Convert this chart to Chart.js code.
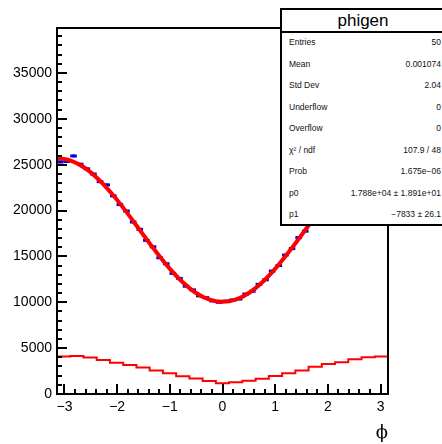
<!DOCTYPE html>
<html>
<head>
<meta charset="utf-8">
<script src="https://cdn.jsdelivr.net/npm/chart.js@4.4.1/dist/chart.umd.min.js"></script>
<style>
  body { margin: 0; background: #fff; }
  #wrap { position: relative; width: 442px; height: 444px; overflow: hidden; }
  #c { position: absolute; left: 0; top: 0; }
  #stats {
    position: absolute; left: 280px; top: 8px; width: 170px; height: 218px;
    box-sizing: border-box; border: 2px solid #000; background: #fff;
  }
  #stats .head {
    position: absolute; left: 0; top: 0; width: 162px; height: 21px;
    border-bottom: 2px solid #000; text-align: center;
    font: 17px "Liberation Sans", Arial, sans-serif; line-height: 21px; color: #000;
  }
  .srow {
    position: absolute; height: 12px; line-height: 12px;
    font: 8.5px "Liberation Sans", Arial, sans-serif; color: #111; white-space: nowrap;
  }
  #xtitle {
    position: absolute; right: 54px; top: 421px;
    font: 18px "DejaVu Serif", "Liberation Serif", serif; color: #000;
  }
</style>
</head>
<body>
<div id="wrap">
  <canvas id="c" width="442" height="444"></canvas>
  <div id="stats"><div class="head">phigen</div></div>
  <div id="xtitle">ϕ</div>
</div>
<script>
// histogram range
const phiMin = -Math.PI;
const phiMax = Math.PI;

// phigen: 50 bins (blue points)
const phiCounts = [
  25300, 25350, 25950, 25050, 24550, 23980, 23150, 22800, 21600, 20650,
  19950, 18750, 17950, 16750, 16050, 14850, 14200, 13150, 12600, 11750,
  11350, 10700, 10500, 10150, 10000, 10120, 10250, 10350, 10900, 11200,
  11950, 12450, 13400, 14000, 15150, 15850, 17050, 17750, 18950, 19700,
  20850, 21550, 22600, 23150, 24000, 24400, 25100, 25250, 25650, 25600
];

// lower red histogram: 25 bins
const lowCounts = [
  4080, 4150, 3970, 3720, 3420, 3170, 2880, 2560, 2250, 1930,
  1700, 1420, 1170, 1280, 1450, 1670, 1970, 2260, 2550, 2980,
  3280, 3460, 3790, 4010, 4080
];

// fit p0 + p1*cos(phi)
const fitPhi = [
  -3.1416, -2.8798, -2.6180, -2.3562, -2.0944, -1.8326, -1.5708, -1.3090, -1.0472,
  -0.7854, -0.5236, -0.2618, 0, 0.2618, 0.5236, 0.7854, 1.0472, 1.3090, 1.5708,
  1.8326, 2.0944, 2.3562, 2.6180, 2.8798, 3.1416
];
const fitValues = [
  25713, 25446, 24664, 23419, 21797, 19907, 17880, 15853, 13964,
  12341, 11096, 10314, 10047, 10314, 11096, 12341, 13964, 15853, 17880,
  19907, 21797, 23419, 24664, 25446, 25713
];

// axis ticks
const xTicks = [-3, -2, -1, 0, 1, 2, 3];
const yTicks = [0, 5000, 10000, 15000, 20000, 25000, 30000, 35000];

// stats box
const statLabels = ['Entries', 'Mean', 'Std Dev', 'Underflow', 'Overflow', 'χ² / ndf', 'Prob', 'p0', 'p1'];
const statValues = ['50', '0.001074', '2.04', '0', '0', '107.9 / 48', '1.675e\u221206',
  '1.788e+04 ± 1.891e+01', '\u22127833 ± 26.1'];

const font = '"Liberation Sans", Arial, sans-serif';

// stats rows
const stats = document.getElementById('stats');
statLabels.forEach((lab, k) => {
  const top = 43 + 21.5 * k - 6 - 10;
  const l = document.createElement('div');
  l.className = 'srow';
  l.style.left = '7px';
  l.style.top = top + 'px';
  l.textContent = lab;
  const v = document.createElement('div');
  v.className = 'srow';
  v.style.right = '7px';
  v.style.top = top + 'px';
  v.textContent = statValues[k];
  stats.appendChild(l);
  stats.appendChild(v);
});

// data for the library
const w50 = (phiMax - phiMin) / phiCounts.length;
const pointData = phiCounts.map((v, i) => ({ x: phiMin + (i + 0.5) * w50, y: v }));

const w25 = (phiMax - phiMin) / lowCounts.length;
const lowData = lowCounts.map((v, i) => ({ x: phiMin + i * w25, y: v }));
lowData.push({ x: phiMax, y: lowCounts[lowCounts.length - 1] });

const fitData = fitPhi.map((p, i) => ({ x: p, y: fitValues[i] }));

// error bars + frame with ROOT style ticks
const rootPlugin = {
  id: 'rootStyle',
  afterDatasetDraw(chart, args) {
    if (args.index !== 1) return;
    const ctx = chart.ctx;
    const y = chart.scales.y;
    ctx.save();
    ctx.strokeStyle = '#0000ee';
    ctx.lineWidth = 2;
    args.meta.data.forEach((pt, i) => {
      const v = phiCounts[i];
      const e = Math.sqrt(v);
      ctx.beginPath();
      ctx.moveTo(pt.x, y.getPixelForValue(v - e));
      ctx.lineTo(pt.x, y.getPixelForValue(v + e));
      ctx.stroke();
    });
    ctx.restore();
  },
  afterDraw(chart) {
    const { ctx, chartArea: a, scales: { x, y } } = chart;
    ctx.save();
    ctx.strokeStyle = '#000';
    ctx.lineWidth = 2;
    ctx.strokeRect(a.left, a.top, a.right - a.left, a.bottom - a.top);
    ctx.beginPath();
    for (let v = 0; v < y.max; v += 1000) {
      const py = Math.round(y.getPixelForValue(v));
      const len = v % 5000 === 0 ? 10 : 5;
      ctx.moveTo(a.left, py);
      ctx.lineTo(a.left + len, py);
    }
    for (let k = -15; k <= 15; k++) {
      const px = Math.round(x.getPixelForValue(k * 0.2));
      const len = k % 5 === 0 ? 10 : 5;
      ctx.moveTo(px, a.bottom);
      ctx.lineTo(px, a.bottom - len);
    }
    ctx.stroke();
    ctx.restore();
  }
};

new Chart(document.getElementById('c'), {
  type: 'scatter',
  data: {
    datasets: [
      {
        type: 'line',
        data: fitData,
        borderColor: '#ff0000',
        borderWidth: 4,
        pointRadius: 0,
        cubicInterpolationMode: 'monotone',
        order: 0
      },
      {
        data: pointData,
        showLine: false,
        pointStyle: 'line',
        pointRadius: 3.3,
        borderColor: '#0000ee',
        borderWidth: 3,
        order: 1
      },
      {
        type: 'line',
        data: lowData,
        stepped: 'before',
        borderColor: '#ff0000',
        borderWidth: 2,
        pointRadius: 0,
        order: 2
      }
    ]
  },
  options: {
    responsive: false,
    animation: false,
    events: [],
    layout: { padding: { top: 28, right: 54, left: 0, bottom: 0 } },
    plugins: { legend: { display: false }, tooltip: { enabled: false } },
    scales: {
      x: {
        type: 'linear',
        min: phiMin,
        max: phiMax,
        afterBuildTicks: s => { s.ticks = xTicks.map(v => ({ value: v })); },
        afterFit: s => { s.height = 50; },
        grid: { display: false, drawTicks: false },
        border: { display: false },
        ticks: {
          padding: 5,
          color: '#000',
          maxRotation: 0,
          autoSkip: false,
          font: { family: font, size: 14 },
          callback: v => (v < 0 ? '\u2212' + Math.abs(v) : String(v))
        }
      },
      y: {
        min: 0,
        max: 39900,
        afterBuildTicks: s => { s.ticks = yTicks.map(v => ({ value: v })); },
        afterFit: s => { s.width = 57; },
        grid: { display: false, drawTicks: false },
        border: { display: false },
        ticks: {
          padding: 5,
          color: '#000',
          autoSkip: false,
          font: { family: font, size: 14 },
          callback: v => String(v)
        }
      }
    }
  },
  plugins: [rootPlugin]
});
</script>
</body>
</html>
